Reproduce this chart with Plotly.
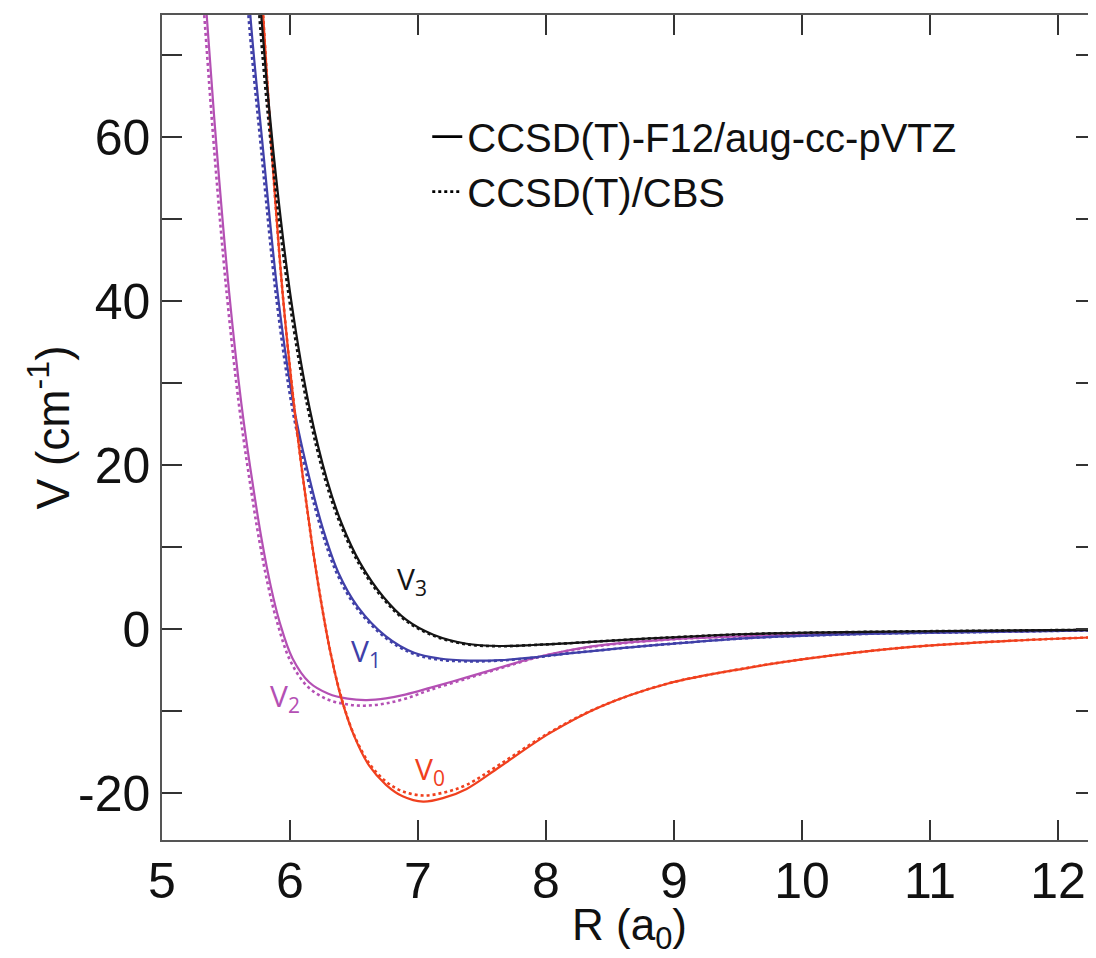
import plotly.graph_objects as go

# ---- data (R in a0, V in cm^-1) ----
R_v0_f12 = [5.74, 5.79, 5.857, 5.945, 6.03, 6.10, 6.17, 6.24, 6.31, 6.40, 6.50, 6.62, 6.75, 6.88, 7.04, 7.20, 7.38, 7.64, 8.03, 8.42, 8.94, 9.59, 10.0, 10.77, 11.55, 12.3]
V_v0_f12 = [88.0, 74.9, 58.4, 40.5, 27.5, 18.6, 10.6, 3.6, -2.4, -8.4, -13.0, -16.7, -19.0, -20.4, -21.05, -20.6, -19.5, -16.8, -12.7, -9.5, -6.7, -4.7, -3.7, -2.3, -1.5, -1.0]

R_v0_cbs = [5.74, 5.79, 5.857, 5.945, 6.03, 6.10, 6.17, 6.24, 6.31, 6.40, 6.50, 6.62, 6.75, 6.88, 7.04, 7.20, 7.38, 7.64, 8.03, 8.42, 8.94, 9.59, 10.0, 10.77, 11.55, 12.3]
V_v0_cbs = [88.0, 74.9, 58.4, 40.5, 27.5, 18.6, 10.6, 3.6, -2.4, -8.3, -12.9, -16.4, -18.6, -19.8, -20.3, -19.95, -19.0, -16.5, -12.6, -9.5, -6.7, -4.7, -3.7, -2.3, -1.5, -1.0]

R_v1_f12 = [5.64, 5.69, 5.79, 5.91, 6.035, 6.155, 6.26, 6.38, 6.53, 6.75, 6.97, 7.17, 7.40, 7.64, 7.90, 8.16, 8.42, 8.68, 8.94, 9.59, 10.5, 11.5, 12.3]
V_v1_f12 = [88.0, 74.9, 58.4, 40.1, 26.7, 18.2, 12.1, 6.8, 2.7, -0.9, -2.9, -3.6, -3.85, -3.8, -3.45, -3.0, -2.6, -2.2, -1.85, -1.1, -0.6, -0.35, -0.15]

R_v1_cbs = [5.625, 5.675, 5.775, 5.895, 6.02, 6.14, 6.245, 6.365, 6.515, 6.74, 6.96, 7.17, 7.40, 7.64, 7.90, 8.16, 8.42, 8.68, 8.94, 9.59, 10.5, 11.5, 12.3]
V_v1_cbs = [88.0, 74.9, 58.4, 40.1, 26.7, 18.2, 12.1, 6.8, 2.7, -1.0, -3.0, -3.75, -3.95, -3.85, -3.5, -3.0, -2.6, -2.2, -1.85, -1.1, -0.6, -0.35, -0.15]

R_v2_f12 = [5.29, 5.349, 5.428, 5.525, 5.62, 5.70, 5.78, 5.85, 5.92, 6.02, 6.15, 6.30, 6.45, 6.60, 6.75, 6.90, 7.10, 7.38, 7.64, 7.90, 8.16, 8.42, 8.94, 9.59, 10.5, 11.5, 12.3]
V_v2_f12 = [88.0, 74.9, 58.4, 41.0, 27.5, 18.6, 10.8, 5.2, 0.8, -3.6, -6.5, -7.9, -8.5, -8.66, -8.45, -8.0, -7.15, -5.9, -4.7, -3.55, -2.65, -2.0, -1.3, -0.85, -0.5, -0.3, -0.1]

R_v2_cbs = [5.27, 5.33, 5.408, 5.505, 5.60, 5.68, 5.76, 5.83, 5.90, 6.00, 6.13, 6.28, 6.43, 6.58, 6.74, 6.90, 7.10, 7.38, 7.64, 7.90, 8.16, 8.42, 8.94, 9.59, 10.5, 11.5, 12.3]
V_v2_cbs = [88.0, 74.9, 58.4, 41.0, 27.5, 18.6, 10.8, 5.2, 0.8, -3.8, -6.9, -8.5, -9.15, -9.35, -9.1, -8.5, -7.4, -6.05, -4.8, -3.6, -2.7, -2.05, -1.3, -0.85, -0.5, -0.3, -0.1]

R_v3_f12 = [5.725, 5.775, 5.869, 6.009, 6.156, 6.289, 6.403, 6.55, 6.73, 6.91, 7.12, 7.38, 7.64, 7.90, 8.16, 8.68, 9.59, 10.5, 11.5, 12.3]
V_v3_f12 = [88.0, 74.9, 58.4, 40.1, 26.7, 18.2, 12.9, 8.0, 3.9, 1.1, -0.7, -1.8, -2.07, -1.95, -1.75, -1.26, -0.61, -0.35, -0.2, -0.1]

R_v3_cbs = [5.71, 5.76, 5.855, 5.995, 6.142, 6.275, 6.39, 6.537, 6.717, 6.897, 7.11, 7.37, 7.64, 7.90, 8.16, 8.68, 9.59, 10.5, 11.5, 12.3]
V_v3_cbs = [88.0, 74.9, 58.4, 40.1, 26.7, 18.2, 12.9, 8.0, 3.9, 1.1, -0.75, -1.85, -2.1, -1.95, -1.75, -1.26, -0.61, -0.35, -0.2, -0.1]

x_ticks = [5, 6, 7, 8, 9, 10, 11, 12]
y_ticks = [-20, 0, 20, 40, 60]
y_ticktext = ["-20", "0", "20", "40", "60"]

x_title = "R (a<sub>0</sub>)"
y_title = "V (cm<sup>-1</sup>)"
legend_names = ["CCSD(T)-F12/aug-cc-pVTZ", "CCSD(T)/CBS"]
curve_labels = ["V<sub>0</sub>", "V<sub>1</sub>", "V<sub>2</sub>", "V<sub>3</sub>"]
label_R = [7.09, 6.59, 5.96, 6.95]
label_V = [-17.2, -2.8, -8.3, 6.0]

RED = "#f0401e"
BLUE = "#4040a8"
MAG = "#b450b4"
BLK = "#141414"
colors = [RED, BLUE, MAG, BLK]

FONT = "Liberation Sans, Arial, sans-serif"
DOT = "3px,3px"

fig = go.Figure()

series = [
    (R_v2_f12, V_v2_f12, R_v2_cbs, V_v2_cbs, MAG),
    (R_v1_f12, V_v1_f12, R_v1_cbs, V_v1_cbs, BLUE),
    (R_v0_f12, V_v0_f12, R_v0_cbs, V_v0_cbs, RED),
    (R_v3_f12, V_v3_f12, R_v3_cbs, V_v3_cbs, BLK),
]
for rf, vf, rc, vc, col in series:
    fig.add_trace(go.Scatter(x=rc, y=vc, mode="lines", showlegend=False,
                             line=dict(color=col, width=2.6, dash=DOT, shape="spline", smoothing=1.0)))
    fig.add_trace(go.Scatter(x=rf, y=vf, mode="lines", showlegend=False,
                             line=dict(color=col, width=2.2, shape="spline", smoothing=1.0)))

# legend entries
fig.add_trace(go.Scatter(x=[None], y=[None], mode="lines", name=legend_names[0],
                         line=dict(color="black", width=2.6)))
fig.add_trace(go.Scatter(x=[None], y=[None], mode="lines", name=legend_names[1],
                         line=dict(color="black", width=2.6, dash=DOT)))

for txt, r, v, c in zip(curve_labels, label_R, label_V, colors):
    fig.add_annotation(x=r, y=v, text=txt, showarrow=False,
                       font=dict(family="Open Sans, " + FONT, size=30, color=c))

# axis titles as annotations (placed relative to the plot area)
fig.add_annotation(xref="paper", yref="paper", x=0.5, y=-0.07, yanchor="top", xanchor="center",
                   text=x_title, showarrow=False, font=dict(family=FONT, size=44, color="#111111"))
fig.add_annotation(xref="paper", yref="paper", x=-0.121, y=0.5, xanchor="center", yanchor="middle",
                   textangle=-90, text=y_title, showarrow=False,
                   font=dict(family=FONT, size=46, color="#111111"))

axis_common = dict(showline=True, linecolor="#555555", linewidth=1.5, mirror="ticks",
                   ticks="inside", ticklen=20, tickwidth=1.5, tickcolor="#333333",
                   showgrid=False, zeroline=False, automargin=False,
                   tickfont=dict(family=FONT, size=50, color="#111111"))

# the page body adds 8px; the figure is sized so the plot area lands on the reference frame
fig.update_layout(
    width=1088, height=950,
    margin=dict(l=154, r=0, t=7, b=118),
    paper_bgcolor="white", plot_bgcolor="white",
    font=dict(family=FONT, color="#111111"),
    xaxis=dict(range=[5, 12.297], tickvals=x_ticks, ticklabelstandoff=-4, **axis_common),
    yaxis=dict(range=[-25.73, 74.88], tickvals=y_ticks, ticktext=y_ticktext,
               minor=dict(ticks="inside", ticklen=20, tickwidth=1.5, tickcolor="#333333",
                          tick0=0, dtick=10, showgrid=False),
               **axis_common),
    legend=dict(x=0.284, y=0.892, xanchor="left", yanchor="top",
                font=dict(family=FONT, size=40, color="#111111"),
                bgcolor="rgba(0,0,0,0)", borderwidth=0, tracegroupgap=0),
)

fig.write_html("out.html")
